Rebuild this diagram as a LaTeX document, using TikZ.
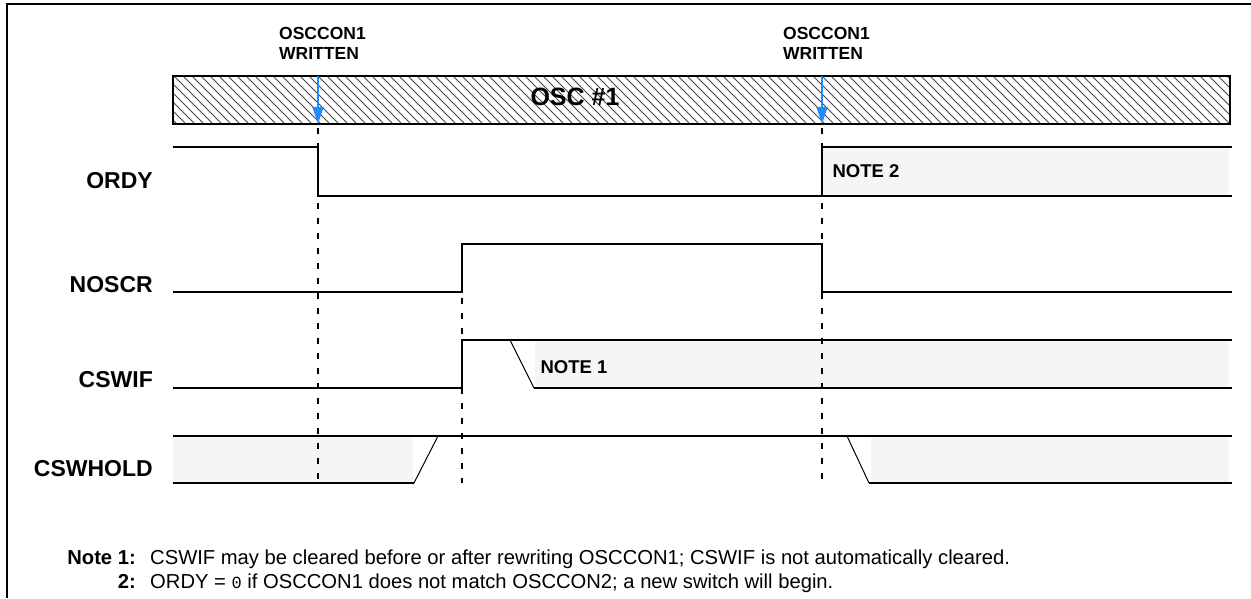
\documentclass[tikz,border=0pt]{standalone}
\usepackage{fontspec}
\setmainfont{Liberation Sans}
\newfontfamily\codefont{Liberation Mono}
\usetikzlibrary{arrows.meta}
\definecolor{arrowblue}{RGB}{30,140,255}
\definecolor{fillgray}{RGB}{245,245,245}
\definecolor{hatchgray}{RGB}{70,70,70}
\begin{document}
\begin{tikzpicture}[x=1pt,y=-1pt,
  sig/.style={line width=2pt, line join=miter},
  slant/.style={line width=1pt},
  guide/.style={line width=2.2pt, dash pattern=on 5.5pt off 9.5pt},
  writearrow/.style={arrowblue, line width=1.6pt, -{Triangle[length=17pt,width=11pt]}},
  siglabel/.style={anchor=base east, inner sep=0pt, font=\bfseries\fontsize{23}{23}\selectfont},
  toplabel/.style={anchor=base west, inner sep=0pt, font=\bfseries\fontsize{17.5}{20}\selectfont},
  notelabel/.style={anchor=base west, font=\bfseries\fontsize{18.5}{18.5}\selectfont},
  notetext/.style={anchor=base west, inner sep=0pt, font=\fontsize{20.2}{20.2}\selectfont},
  notenum/.style={anchor=base east, inner sep=0pt, font=\bfseries\fontsize{20.2}{20.2}\selectfont}]
\useasboundingbox (0,0) rectangle (1251,598);
% frame
\draw[line width=2.5pt] (7,598) -- (7,4) -- (1251,4);

% hatched oscillator bar
\begin{scope}
  \clip (173,76) rectangle (1230,124);
  \foreach \i in {120,129,...,1240} \draw[hatchgray, line width=0.9pt] (\i,76) -- (\i+48,124);
\end{scope}
\draw[line width=2pt] (173,76) rectangle (1230,124);
\node[font=\bfseries\fontsize{25}{25}\selectfont, anchor=base] (osc) at (575,105) {OSC \#1};

% top labels
\node[toplabel] (w1a) at (279,39) {OSCCON1};
\node[toplabel] (w1b) at (279,59) {WRITTEN};
\node[toplabel] (w2a) at (783,39) {OSCCON1};
\node[toplabel] (w2b) at (783,59) {WRITTEN};

% arrows
\coordinate (a1s) at (318,76);
\coordinate (a1e) at (318,124);
\coordinate (a2s) at (822,76);
\coordinate (a2e) at (822,124);
\draw[writearrow] (a1s) -- (a1e);
\draw[writearrow] (a2s) -- (a2e);

% fills (indeterminate regions)
\fill[fillgray] (822,147) rectangle (1229,196);
\fill[fillgray] (535,340) rectangle (1229,388);
\fill[fillgray] (173,436) rectangle (413,483);
\fill[fillgray] (871,436) rectangle (1229,483);

% ORDY
\draw[sig] (173,147) -- (318,147) -- (318,196) -- (1232,196);
\draw[sig] (822,196) -- (822,147) -- (1232,147);
\node[notelabel] (n2) at (829,177) {NOTE 2};

% NOSCR
\draw[sig] (173,292) -- (462,292) -- (462,244) -- (822,244) -- (822,292) -- (1232,292);

% CSWIF
\draw[sig] (173,388) -- (462,388) -- (462,340) -- (1232,340);
\draw[slant] (510,340) -- (534,388);
\draw[sig] (534,388) -- (1232,388);
\node[notelabel] (n1) at (537,373) {NOTE 1};

% CSWHOLD
\draw[sig] (173,436) -- (1232,436);
\draw[sig] (173,483) -- (414,483);
\draw[slant] (414,483) -- (438,436);
\draw[slant] (847,436) -- (869,483);
\draw[sig] (869,483) -- (1232,483);

% guide lines
\coordinate (g1s) at (318,128); \coordinate (g1e) at (318,483);
\coordinate (g2s) at (462,298); \coordinate (g2e) at (462,483);
\coordinate (g3s) at (822,128); \coordinate (g3e) at (822,483);
\draw[guide] (g1s) -- (g1e);
\draw[guide] (g2s) -- (g2e);
\draw[guide] (g3s) -- (g3e);

% signal labels
\node[siglabel] (l1) at (153,188) {ORDY};
\node[siglabel] (l2) at (153,292) {NOSCR};
\node[siglabel] (l3) at (153,387) {CSWIF};
\node[siglabel] (l4) at (153,476) {CSWHOLD};

% notes
\node[notenum] (nl1) at (136,564) {Note 1:};
\node[notetext] (nt1) at (150,564) {CSWIF may be cleared before or after rewriting OSCCON1; CSWIF is not automatically cleared.};
\node[notenum] (nl2) at (136,588) {2:};
\node[notetext] (nt2) at (150,588) {ORDY = {\codefont\fontsize{17}{17}\selectfont 0} if OSCCON1 does not match OSCCON2; a new switch will begin.};
\end{tikzpicture}
\end{document}
